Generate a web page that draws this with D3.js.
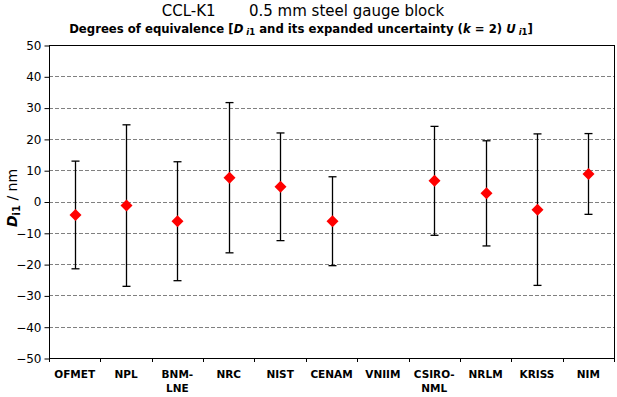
<!DOCTYPE html>
<html>
<head>
<meta charset="utf-8">
<script src="https://cdn.jsdelivr.net/npm/d3@7"></script>
<style>
  body { margin: 0; background: #fff; }
  text { font-family: "DejaVu Sans", Verdana, sans-serif; }
</style>
</head>
<body>
<svg id="chart" width="617" height="397"></svg>
<script>
// labs, second line where the label wraps
var labs = [["OFMET"], ["NPL"], ["BNM-", "LNE"], ["NRC"], ["NIST"], ["CENAM"], ["VNIIM"],
            ["CSIRO-", "NML"], ["NRLM"], ["KRISS"], ["NIM"]];
// degree of equivalence D_i1 (nm) and expanded uncertainty U_i1 (nm), VNIIM has none
var dVals = [-4.3, -1.3, -6.3, 7.6, 4.7, -6.3, null, 6.6, 2.6, -2.6, 8.8];
var uVals = [17.2, 25.8, 19.0, 24.0, 17.2, 14.2, null, 17.4, 16.8, 24.2, 12.9];
var yTicks = [-50, -40, -30, -20, -10, 0, 10, 20, 30, 40, 50];

var svg = d3.select("#chart");
var pLeft = 49, pRight = 614, pTop = 45, pBottom = 358;

var x = d3.scaleBand().domain(d3.range(labs.length)).range([pLeft, pRight]);
var y = d3.scaleLinear().domain([-50, 50]).range([pBottom, pTop]);

// grid
svg.append("g").selectAll("line")
    .data(yTicks.filter(function(t){ return t != 50 && t != -50; }))
    .enter().append("line")
    .attr("x1", pLeft).attr("x2", pRight)
    .attr("y1", function(d){ return Math.round(y(d)) + 0.5; })
    .attr("y2", function(d){ return Math.round(y(d)) + 0.5; })
    .attr("stroke", "#808080")
    .attr("stroke-dasharray", "4,2");

// frame
svg.append("rect")
    .attr("x", pLeft + 0.5).attr("y", pTop + 0.5)
    .attr("width", pRight - pLeft).attr("height", pBottom - pTop)
    .attr("fill", "none").attr("stroke", "#000");

// y axis
var yAxis = d3.axisLeft(y).tickValues(yTicks).tickSize(5).tickPadding(3);
var gy = svg.append("g").attr("transform", "translate(" + (pLeft + 0.5) + ",0.5)").call(yAxis);
gy.select(".domain").remove();
gy.selectAll("text").attr("font-size", 12).attr("fill", "#000")
    .style("font-family", "'DejaVu Sans', Verdana, sans-serif");

// x axis ticks between categories
svg.append("g").selectAll("line")
    .data(d3.range(labs.length + 1))
    .enter().append("line")
    .attr("x1", function(i){ return Math.round(pLeft + i * x.bandwidth()) + 0.5; })
    .attr("x2", function(i){ return Math.round(pLeft + i * x.bandwidth()) + 0.5; })
    .attr("y1", pBottom).attr("y2", pBottom + 4)
    .attr("stroke", "#000");

var xl = svg.append("g").selectAll("text")
    .data(labs)
    .enter().append("text")
    .attr("text-anchor", "middle")
    .attr("font-size", 10.5)
    .attr("font-weight", "bold")
    .attr("x", function(d, i){ return x(i) + x.bandwidth() / 2; })
    .attr("y", pBottom + 20);
xl.selectAll("tspan")
    .data(function(d){ return d; })
    .enter().append("tspan")
    .attr("x", function(){ return this.parentNode.getAttribute("x"); })
    .attr("dy", function(d, j){ return j ? 14 : 0; })
    .text(function(d){ return d; });

// error bars
var pts = dVals.map(function(d, i){ return {i: i, d: d, u: uVals[i]}; })
    .filter(function(p){ return p.d != null; });
var cx = function(p){ return Math.round(x(p.i) + x.bandwidth() / 2) + 0.5; };

var eb = svg.append("g").attr("stroke", "#000").attr("stroke-width", 1.3);
eb.selectAll(".bar").data(pts).enter().append("line")
    .attr("x1", cx).attr("x2", cx)
    .attr("y1", function(p){ return y(p.d + p.u); })
    .attr("y2", function(p){ return y(p.d - p.u); });
eb.selectAll(".capT").data(pts).enter().append("line")
    .attr("x1", function(p){ return cx(p) - 4; }).attr("x2", function(p){ return cx(p) + 4; })
    .attr("y1", function(p){ return y(p.d + p.u); })
    .attr("y2", function(p){ return y(p.d + p.u); });
eb.selectAll(".capB").data(pts).enter().append("line")
    .attr("x1", function(p){ return cx(p) - 4; }).attr("x2", function(p){ return cx(p) + 4; })
    .attr("y1", function(p){ return y(p.d - p.u); })
    .attr("y2", function(p){ return y(p.d - p.u); });

// diamonds
svg.append("g").selectAll("path").data(pts).enter().append("path")
    .attr("d", "M0,-6L6,0L0,6L-6,0Z")
    .attr("fill", "#ff0000")
    .attr("transform", function(p){ return "translate(" + cx(p) + "," + y(p.d) + ")"; });

// titles
svg.append("text")
    .attr("x", 303).attr("y", 16)
    .attr("text-anchor", "middle")
    .attr("font-size", 15)
    .attr("xml:space", "preserve")
    .text("CCL-K1       0.5 mm steel gauge block");

var st = svg.append("text")
    .attr("x", 301).attr("y", 33)
    .attr("text-anchor", "middle")
    .attr("font-size", 11.7)
    .attr("font-weight", "bold");
st.append("tspan").text("Degrees of equivalence [");
st.append("tspan").attr("font-style", "italic").text("D");
st.append("tspan").attr("font-size", 8.5).attr("dy", 2).attr("font-style", "italic").text(" i");
st.append("tspan").attr("font-size", 8.5).text("1");
st.append("tspan").attr("dy", -2).text(" and its expanded uncertainty (");
st.append("tspan").attr("font-style", "italic").text("k");
st.append("tspan").text(" = 2) ");
st.append("tspan").attr("font-style", "italic").text("U");
st.append("tspan").attr("font-size", 8.5).attr("dy", 2).attr("font-style", "italic").text(" i");
st.append("tspan").attr("font-size", 8.5).text("1");
st.append("tspan").attr("dy", -2).text("]");

// y label
var yl = svg.append("text")
    .attr("transform", "translate(17,198) rotate(-90)")
    .attr("text-anchor", "middle")
    .attr("font-size", 14);
yl.append("tspan").attr("font-weight", "bold").attr("font-style", "italic").text("D");
yl.append("tspan").attr("font-size", 10).attr("font-weight", "bold").attr("dy", 3).text("i1");
yl.append("tspan").attr("dy", -3).text(" / nm");
</script>
</body>
</html>
